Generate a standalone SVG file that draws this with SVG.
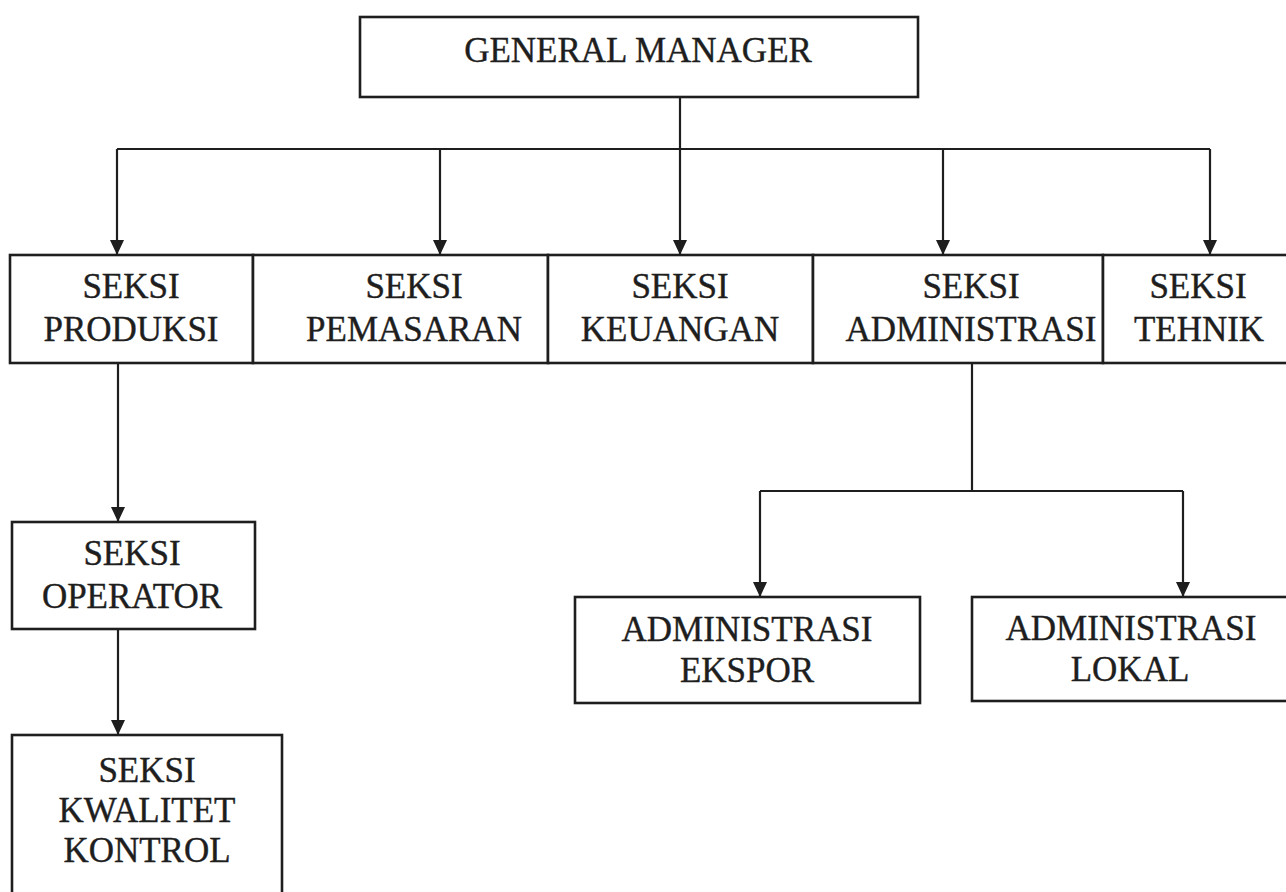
<svg xmlns="http://www.w3.org/2000/svg" width="1286" height="892" viewBox="0 0 1286 892">
<style>
.box{fill:#fff;stroke:#1e1e1e;stroke-width:2.6}
.t{font-family:"Liberation Serif","Times New Roman",serif;font-size:35px;fill:#1e1e1e;stroke:#1e1e1e;stroke-width:0.4;text-anchor:middle}
.c{fill:none;stroke:#1e1e1e;stroke-width:2.2}
</style>
<defs>
<marker id="arr" markerUnits="userSpaceOnUse" markerWidth="16" markerHeight="16" refX="15" refY="8" orient="auto">
<path d="M0,1 L15,8 L0,15 z" fill="#1e1e1e"/>
</marker>
</defs>
<rect width="1286" height="892" fill="#fff"/>
<g id="connectors">
<path class="c" d="M117,149 H1210"/>
<path class="c" d="M117,149 V255" marker-end="url(#arr)"/>
<path class="c" d="M440,149 V255" marker-end="url(#arr)"/>
<path class="c" d="M680,97 V255" marker-end="url(#arr)"/>
<path class="c" d="M943,149 V255" marker-end="url(#arr)"/>
<path class="c" d="M1210,149 V255" marker-end="url(#arr)"/>
<path class="c" d="M118,363 V522" marker-end="url(#arr)"/>
<path class="c" d="M118,629 V735" marker-end="url(#arr)"/>
<path class="c" d="M972,363 V491"/>
<path class="c" d="M760,491 H1183"/>
<path class="c" d="M760,491 V597" marker-end="url(#arr)"/>
<path class="c" d="M1183,491 V597" marker-end="url(#arr)"/>
</g>
<g id="gm">
<rect class="box" x="360" y="17" width="558" height="80"/>
<text class="t" x="638" y="62">GENERAL MANAGER</text>
</g>
<g id="produksi">
<rect class="box" x="10" y="255" width="243" height="108"/>
<text class="t" x="131" y="298">SEKSI</text>
<text class="t" x="131" y="341">PRODUKSI</text>
</g>
<g id="pemasaran">
<rect class="box" x="253" y="255" width="295" height="108"/>
<text class="t" x="414" y="298">SEKSI</text>
<text class="t" x="414" y="341">PEMASARAN</text>
</g>
<g id="keuangan">
<rect class="box" x="548" y="255" width="265" height="108"/>
<text class="t" x="680" y="298">SEKSI</text>
<text class="t" x="680" y="341">KEUANGAN</text>
</g>
<g id="administrasi">
<rect class="box" x="813" y="255" width="290" height="108"/>
<text class="t" x="971" y="298">SEKSI</text>
<text class="t" x="971" y="341">ADMINISTRASI</text>
</g>
<g id="tehnik">
<rect class="box" x="1103" y="255" width="195" height="108"/>
<text class="t" x="1198" y="298">SEKSI</text>
<text class="t" x="1199" y="341">TEHNIK</text>
</g>
<g id="operator">
<rect class="box" x="12" y="522" width="243" height="107"/>
<text class="t" x="132" y="565">SEKSI</text>
<text class="t" x="132" y="608">OPERATOR</text>
</g>
<g id="kwalitet">
<rect class="box" x="12" y="735" width="270" height="180"/>
<text class="t" x="147" y="782">SEKSI</text>
<text class="t" x="147" y="822">KWALITET</text>
<text class="t" x="147" y="862">KONTROL</text>
</g>
<g id="ekspor">
<rect class="box" x="575" y="597" width="345" height="106"/>
<text class="t" x="747" y="641">ADMINISTRASI</text>
<text class="t" x="747" y="682">EKSPOR</text>
</g>
<g id="lokal">
<rect class="box" x="972" y="597" width="325" height="104"/>
<text class="t" x="1131" y="640">ADMINISTRASI</text>
<text class="t" x="1130" y="681">LOKAL</text>
</g>
</svg>
